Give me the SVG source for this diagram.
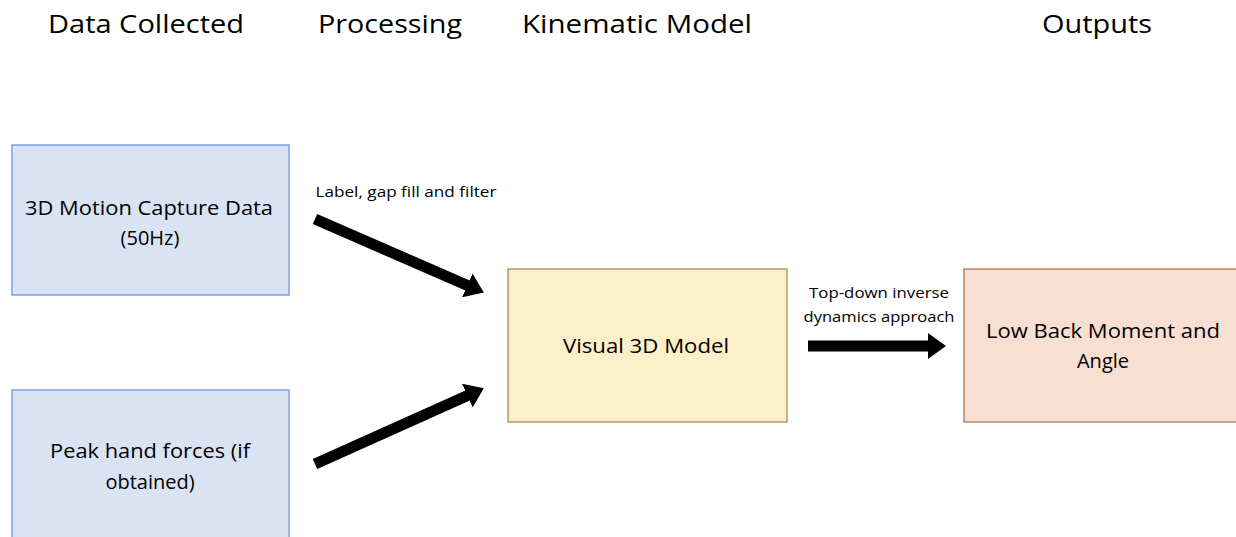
<svg xmlns="http://www.w3.org/2000/svg" width="1236" height="537" viewBox="0 0 1236 537">
<defs>
<style>
.hdr{font-family:"Open Sans","Liberation Sans",sans-serif;font-size:26px;fill:#000}
.t{font-family:"Open Sans","Liberation Sans",sans-serif;font-size:20px;fill:#000;text-anchor:middle}
.s{font-family:"Open Sans","Liberation Sans",sans-serif;font-size:14.5px;fill:#000;text-anchor:middle}
.blue{fill:#dae3f3;stroke:#6f94d6;stroke-width:1.3}
.yel{fill:#fdefc9;stroke:#a68d58;stroke-width:1.3}
.pink{fill:#f9dfd2;stroke:#b07559;stroke-width:1.3}
.arr{stroke:#000;stroke-width:11;fill:none;marker-end:url(#ah)}
</style>
<marker id="ah" markerUnits="userSpaceOnUse" markerWidth="20" markerHeight="26" refX="4" refY="13" orient="auto">
<path d="M0,0 L18,13 L0,26 Z" fill="#000"/>
</marker>
</defs>
<rect width="1236" height="537" fill="#fff"/>
<g id="headers">
<text class="hdr" x="48" y="33" textLength="196" lengthAdjust="spacingAndGlyphs">Data Collected</text>
<text class="hdr" x="318" y="33" textLength="144" lengthAdjust="spacingAndGlyphs">Processing</text>
<text class="hdr" x="522" y="33" textLength="230" lengthAdjust="spacingAndGlyphs">Kinematic Model</text>
<text class="hdr" x="1042" y="33" textLength="110" lengthAdjust="spacingAndGlyphs">Outputs</text>
</g>
<g id="node-mocap">
<rect class="blue" x="12" y="145" width="277" height="150"/>
<text class="t" x="149" y="215" textLength="248" lengthAdjust="spacingAndGlyphs">3D Motion Capture Data</text>
<text class="t" x="150" y="245">(50Hz)</text>
</g>
<g id="node-forces">
<rect class="blue" x="12" y="390" width="277" height="160"/>
<text class="t" x="150" y="458" textLength="200" lengthAdjust="spacingAndGlyphs">Peak hand forces (if</text>
<text class="t" x="150" y="489">obtained)</text>
</g>
<g id="node-visual3d">
<rect class="yel" x="508" y="269" width="279" height="153"/>
<text class="t" x="646" y="353" textLength="166" lengthAdjust="spacingAndGlyphs">Visual 3D Model</text>
</g>
<g id="node-outputs">
<rect class="pink" x="964" y="269" width="280" height="153"/>
<text class="t" x="1103" y="338" textLength="234" lengthAdjust="spacingAndGlyphs">Low Back Moment and</text>
<text class="t" x="1103" y="368">Angle</text>
</g>
<g id="connectors">
<line class="arr" x1="315" y1="219" x2="471" y2="287"/>
<line class="arr" x1="315" y1="464" x2="471" y2="394"/>
<line class="arr" x1="808" y1="346" x2="932" y2="346"/>
<text class="s" x="406" y="197" textLength="181" lengthAdjust="spacingAndGlyphs">Label, gap fill and filter</text>
<text class="s" x="879" y="298" textLength="140" lengthAdjust="spacingAndGlyphs">Top-down inverse</text>
<text class="s" x="879" y="322" textLength="151" lengthAdjust="spacingAndGlyphs">dynamics approach</text>
</g>
</svg>
